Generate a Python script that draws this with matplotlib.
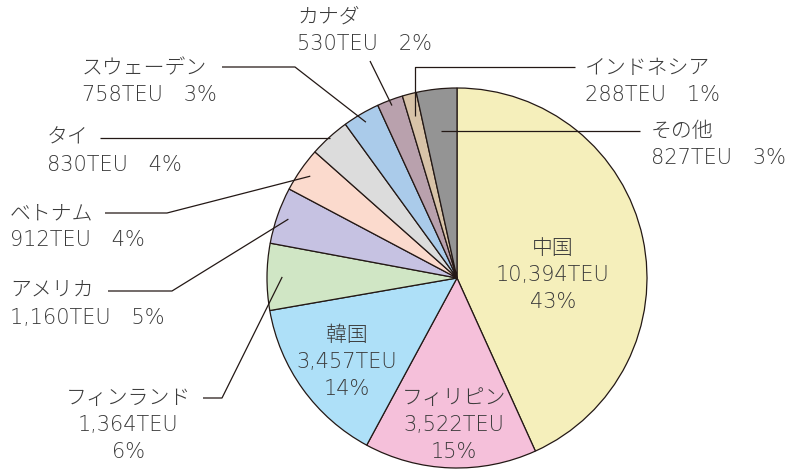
import numpy as np
import matplotlib
matplotlib.use("Agg")
import matplotlib.pyplot as plt

# wide Latin digits from DejaVu, Japanese glyphs fall through to Noto CJK
plt.rcParams["font.family"] = ["DejaVu Sans", "Noto Sans CJK JP"]

# data (clockwise from 12 o'clock)
names = ["中国", "フィリピン", "韓国", "フィンランド", "アメリカ", "ベトナム",
         "タイ", "スウェーデン", "カナダ", "インドネシア", "その他"]
values = [10394, 3522, 3457, 1364, 1160, 912, 830, 758, 530, 288, 827]
pcts = [43, 15, 14, 6, 5, 4, 4, 3, 2, 1, 3]
colors = ["#f5efbb", "#f5c0da", "#aee0f8", "#d0e6c5", "#c6c2e2", "#fbdacd",
          "#dcdcdc", "#aacbea", "#b9a1ad", "#d8c3a8", "#949494"]

W, H = 794, 469
CX, CY, R = 457, 278, 190          # pie centre / radius in pixel coords
EDGE = "#231815"
TXT = "#3a3a3a"
FS = 15
STEP = 27                          # line step of labels, px


def py(y):
    return H - y


fig = plt.figure(figsize=(W / 100, H / 100), dpi=100)
ax = fig.add_axes([0, 0, 1, 1])
wedges, _ = ax.pie(values, colors=colors, startangle=90, counterclock=False,
                   center=(CX, py(CY)), radius=R,
                   wedgeprops=dict(edgecolor=EDGE, linewidth=0.9))
ax.set_xlim(0, W)
ax.set_ylim(0, H)
ax.set_aspect("equal")
ax.axis("off")

mids = {n: np.deg2rad(0.5 * (w.theta1 + w.theta2)) for n, w in zip(names, wedges)}


def label_lines(name):
    i = names.index(name)
    return name, f"{values[i]:,}TEU", f"{pcts[i]}%"


def put_lines(lines, x, y0, ha):
    for k, s in enumerate(lines):
        ax.text(x, py(y0 + k * STEP), s, ha=ha, va="center", fontsize=FS,
                color=TXT, fontweight="light")


# labels inside the big slices
inside = {"中国": (553, 248), "韓国": (347, 335), "フィリピン": (454, 398)}
for n, (x, y) in inside.items():
    put_lines(label_lines(n), x, y, "center")

# outside labels with leader lines
callouts = {
    "カナダ": dict(xy=(297, 17), ha="left", path=[(370, 61)], rfrac=0.97),
    "スウェーデン": dict(xy=(82, 68), ha="left", path=[(222, 67), (295, 67)], rfrac=0.95),
    "タイ": dict(xy=(47, 138), ha="left", path=[(100, 138)], hline=True),
    "ベトナム": dict(xy=(10, 213), ha="left", path=[(105, 213), (167, 213)], rfrac=0.94),
    "アメリカ": dict(xy=(10, 291), ha="left", path=[(108, 291), (172, 291)], rfrac=0.94),
    "フィンランド": dict(xy=(128, 398), ha="center", path=[(203, 398), (222, 398)],
                   rfrac=0.92, three=True),
    "インドネシア": dict(xy=(585, 68), ha="left", path=[(575, 67), (415, 67)], vline=True),
    "その他": dict(xy=(651, 131), ha="left", path=[(640, 131)], hline=True),
}

for n, c in callouts.items():
    name, val, pct = label_lines(n)
    lines = [name, val, pct] if c.get("three") else [name, f"{val}\u3000{pct}"]
    put_lines(lines, c["xy"][0], c["xy"][1], c["ha"])

    a = mids[n]
    last = c["path"][-1]
    if c.get("hline"):
        dy = CY - last[1]
        end = (CX + dy / np.tan(a), last[1])
    elif c.get("vline"):
        dx = last[0] - CX
        end = (last[0], CY - dx * np.tan(a))
    else:
        r = R * c["rfrac"]
        end = (CX + r * np.cos(a), CY - r * np.sin(a))
    pts = c["path"] + [end]
    ax.plot([p[0] for p in pts], [py(p[1]) for p in pts], color=EDGE,
            linewidth=0.9, solid_capstyle="butt")

fig.savefig("out.png", dpi=100)
